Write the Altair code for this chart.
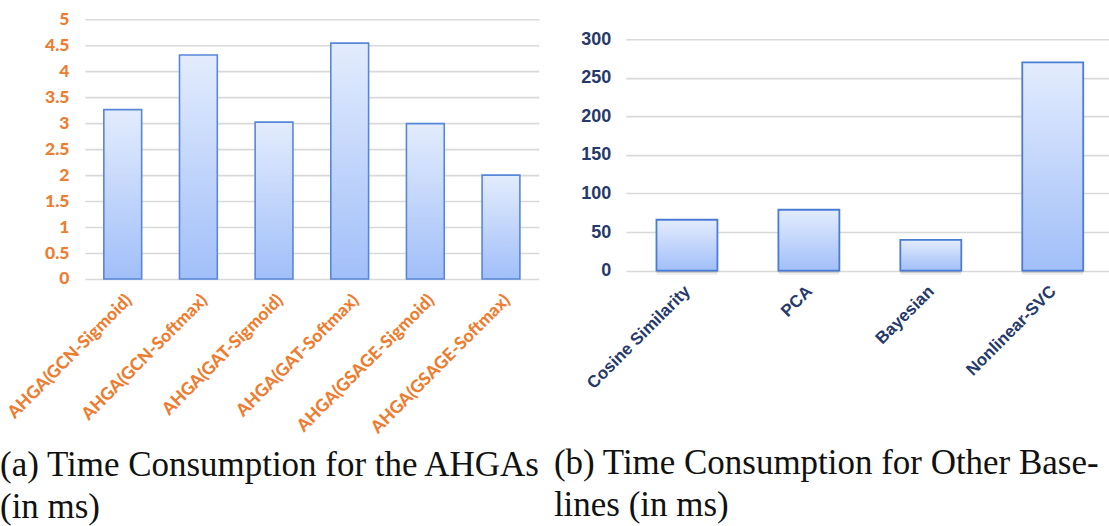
import altair as alt
import pandas as pd

# Run times of the AHGA variants (ms)
ahga_models = [
    "AHGA(GCN-Sigmoid)",
    "AHGA(GCN-Softmax)",
    "AHGA(GAT-Sigmoid)",
    "AHGA(GAT-Softmax)",
    "AHGA(GSAGE-Sigmoid)",
    "AHGA(GSAGE-Softmax)",
]
ahga_ms = [3.26, 4.31, 3.02, 4.54, 2.99, 2.00]
ahga_ticks = [0, 0.5, 1, 1.5, 2, 2.5, 3, 3.5, 4, 4.5, 5]

# Run times of the other baselines (ms)
baselines = ["Cosine Similarity", "PCA", "Bayesian", "Nonlinear-SVC"]
baseline_ms = [66, 79, 40, 270]
baseline_ticks = [0, 50, 100, 150, 200, 250, 300]

caption_a = ["(a) Time Consumption for the AHGAs", "(in ms)"]
caption_b = ["(b) Time Consumption for Other Base-", "lines (in ms)"]

df_a = pd.DataFrame({"model": ahga_models, "ms": ahga_ms})
df_b = pd.DataFrame({"model": baselines, "ms": baseline_ms})

bar_fill = alt.Gradient(
    gradient="linear",
    stops=[
        alt.GradientStop(color="#e3ecfd", offset=0),
        alt.GradientStop(color="#a1bff9", offset=1),
    ],
    x1=0, x2=0, y1=0, y2=1,
)

ORANGE = "#ED7D31"
NAVY = "#26396a"
GRID = "#d9d9d9"
SERIF = "Liberation Serif"

# ---- panel (a) ----
xa = alt.X(
    "model:N",
    sort=ahga_models,
    scale=alt.Scale(paddingInner=0.5, paddingOuter=0.25),
    axis=alt.Axis(
        title=None, domain=False, ticks=False, grid=False,
        labelAngle=-45, labelPadding=12, labelLimit=400,
        labelFont="Lato", labelFontWeight=900, labelFontSize=17.5,
        labelColor=ORANGE,
    ),
)
ya = alt.Y(
    "ms:Q",
    scale=alt.Scale(domain=[0, 5.2692], nice=False, zero=True),
    axis=alt.Axis(
        title=None, values=ahga_ticks, format="~g", domain=False, ticks=False,
        grid=True, gridColor=GRID, gridWidth=1.6,
        labelPadding=16, labelFont="Lato", labelFontWeight=900,
        labelFontSize=17.5, labelColor=ORANGE,
    ),
)
panel_a = (
    alt.Chart(df_a)
    .mark_bar(fill=bar_fill, stroke="#5787d8", strokeWidth=1.6)
    .encode(x=xa, y=ya)
    .properties(
        width=454.3,
        height=274,
        title=alt.TitleParams(
            text=caption_a, orient="bottom", anchor="start", frame="group",
            dx=-85, offset=12, font=SERIF, fontSize=35, fontWeight="normal",
            color="#111111", lineHeight=42,
        ),
    )
)

# ---- panel (b) ----
xb = alt.X(
    "model:N",
    sort=baselines,
    scale=alt.Scale(paddingInner=0.5, paddingOuter=0.23, align=0.546),
    axis=alt.Axis(
        title=None, domain=False, ticks=False, grid=False,
        labelAngle=-45, labelPadding=12, labelOffset=-5, labelLimit=400,
        labelFont="Liberation Sans", labelFontWeight="bold",
        labelFontSize=17, labelColor=NAVY,
    ),
)
yb = alt.Y(
    "ms:Q",
    scale=alt.Scale(domain=[0, 344.0], nice=False, zero=True),
    axis=alt.Axis(
        title=None, values=baseline_ticks, format="d", domain=False, ticks=False,
        grid=True, gridColor=GRID, gridWidth=1.6,
        labelPadding=15, labelFont="Liberation Sans", labelFontWeight="bold",
        labelFontSize=18, labelColor=NAVY,
    ),
)
base_b = alt.Chart(df_b).encode(x=xb, y=yb)
shadow_far = base_b.mark_bar(fill="#000000", opacity=0.07, yOffset=4, y2Offset=4)
shadow_near = base_b.mark_bar(fill="#000000", opacity=0.12, yOffset=2, y2Offset=2)
bars_b = base_b.mark_bar(fill=bar_fill, stroke="#4a7cd5", strokeWidth=1.8)

panel_b = alt.layer(shadow_far, shadow_near, bars_b).properties(
    width=483.3,
    height=265.7,
    title=alt.TitleParams(
        text=caption_b, orient="bottom", anchor="start", frame="group",
        dx=-72, offset=55, font=SERIF, fontSize=35, fontWeight="normal",
        color="#111111", lineHeight=42,
    ),
)

chart = (
    alt.hconcat(panel_a, panel_b, spacing=86.4, bounds="flush")
    .properties(padding={"left": 0, "top": 5, "right": 0, "bottom": 0}, background="white")
    .configure_view(strokeWidth=0)
)

chart.save("out.html", embed_options={"renderer": "svg", "actions": False})
